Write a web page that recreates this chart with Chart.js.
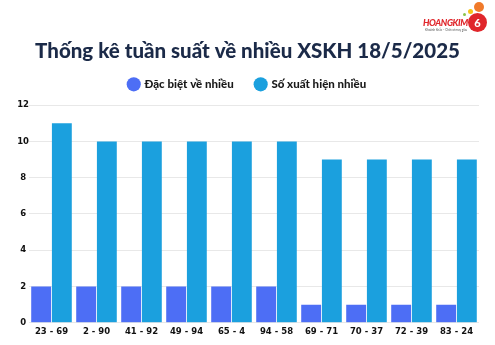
<!DOCTYPE html>
<html><head><meta charset="utf-8">
<script src="https://cdn.jsdelivr.net/npm/chart.js@4/dist/chart.umd.min.js"></script>
<style>
html,body{margin:0;padding:0;background:#fff;}
#wrap{position:relative;width:495px;height:345px;}
#logo{position:absolute;left:423px;top:0px;width:72px;height:34px;font-family:Lato,sans-serif;}
#logo .t{position:absolute;left:0;top:17px;font-weight:900;font-style:italic;color:#e0262b;font-size:9px;letter-spacing:-0.4px;}
#logo .c{position:absolute;left:45px;top:13px;width:19px;height:19px;border-radius:50%;background:#e0262b;color:#fff;font-size:11px;font-weight:900;text-align:center;line-height:19px;}
#logo .s{position:absolute;left:2px;top:28px;font-size:3px;color:#555;white-space:nowrap;}
#logo .d{position:absolute;border-radius:50%;}
</style></head>
<body><div id="wrap"><canvas id="c" width="495" height="345"></canvas>
<div id="logo"><div class="d" style="left:51px;top:2px;width:10px;height:10px;background:#f07a2a"></div><div class="d" style="left:45px;top:9px;width:5px;height:5px;background:#f5c518"></div><div class="d" style="left:40px;top:13px;width:3px;height:3px;background:#8bc34a"></div><span class="t">HOANGKIM</span><span class="c">6</span><span class="s">Khoảnh khắc – Chờ cơ may giàu</span></div>
</div>
<script>
const categories = ["23 - 69","2 - 90","41 - 92","49 - 94","65 - 4","94 - 58","69 - 71","70 - 37","72 - 39","83 - 24"];
const dacBiet = [2,2,2,2,2,2,1,1,1,1];
const soXuatHien = [11,10,10,10,10,10,9,9,9,9];
const yTicks = [0,2,4,6,8,10,12];

new Chart(document.getElementById('c'), {
  type: 'bar',
  data: {
    labels: categories,
    datasets: [
      {label: 'Đặc biệt về nhiều', data: dacBiet, backgroundColor: '#4d6ef5', borderWidth: 0, categoryPercentage: 0.92, barPercentage: 0.96},
      {label: 'Số xuất hiện nhiều', data: soXuatHien, backgroundColor: '#1ba0de', borderWidth: 0, categoryPercentage: 0.92, barPercentage: 0.96}
    ]
  },
  options: {
    responsive: false,
    animation: false,
    layout: {padding: {left: 6, right: 6, bottom: 4}},
    plugins: {
      title: {display: true, text: 'Thống kê tuần suất về nhiều XSKH 18/5/2025', color: '#1b2a48',
        font: {family: 'Lato', size: 20.5, weight: '900'}, padding: {top: 39, bottom: -7}},
      legend: {labels: {usePointStyle: true, pointStyle: 'circle', boxWidth: 10, boxHeight: 10, padding: 22,
        color: '#1a1a1a', font: {family: 'Lato', size: 11.5, weight: '900'}}},
      tooltip: {enabled: false}
    },
    scales: {
      x: {grid: {display: false, drawTicks: false, tickLength: 0}, border: {display: false},
        ticks: {color: '#111', font: {family: 'DejaVu Sans', size: 8.5, weight: 'bold'}, maxRotation: 0, autoSkip: false, padding: 4}},
      y: {min: 0, max: 12.28, border: {display: false}, grid: {color: '#e8e8e8', drawTicks: false},
        afterBuildTicks: (ax) => { ax.ticks = yTicks.map(v => ({value: v})); },
        afterFit: (ax) => { ax.width = 23; },
        ticks: {color: '#111', font: {family: 'DejaVu Sans', size: 8.5, weight: 'bold'}, padding: 0, crossAlign: 'center'}},
      y2: {position: 'right', display: true, grid: {display: false}, border: {display: false},
        ticks: {display: false}, afterFit: (ax) => { ax.width = 10; }}
    }
  }
});
</script></body></html>
